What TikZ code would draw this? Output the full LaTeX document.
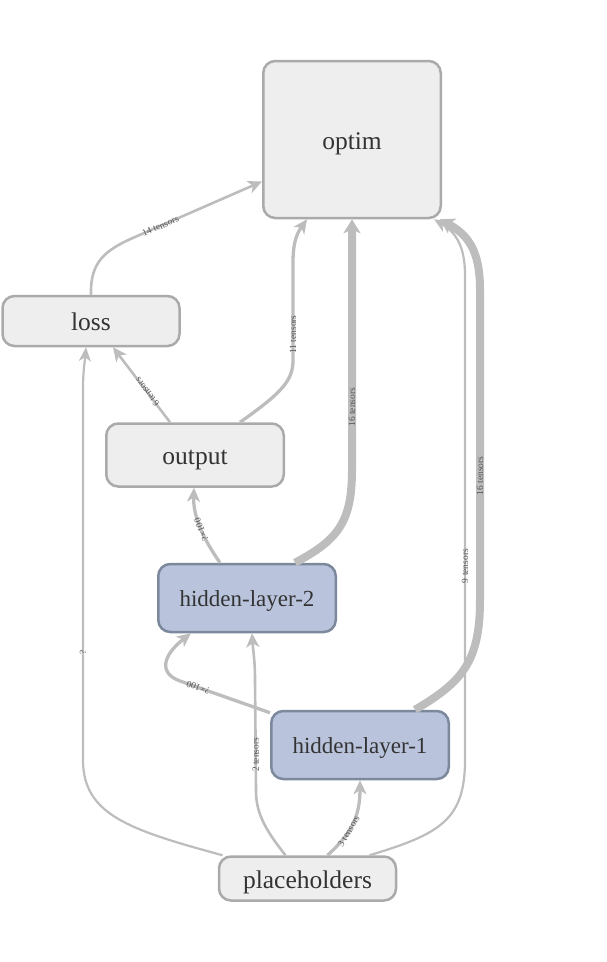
\documentclass[tikz,border=0pt]{standalone}
\usepackage{fontspec}
\setmainfont{Liberation Serif}
\usetikzlibrary{arrows.meta}
\definecolor{nodegray}{HTML}{EEEEEE}
\definecolor{nodegrayline}{HTML}{AAAAAA}
\definecolor{nodeblue}{HTML}{B9C4DC}
\definecolor{nodeblueline}{HTML}{7C889C}
\definecolor{edgecol}{HTML}{BDBDBD}
\definecolor{txtcol}{HTML}{333333}
\definecolor{lblcol}{HTML}{555555}
\tikzset{
  graybox/.style={draw=nodegrayline, fill=nodegray, line width=2.5pt, rounded corners=12pt,
    text=txtcol, font=\fontsize{25.5}{26}\selectfont, inner sep=0pt, text height=19pt, text depth=0pt},
  bluebox/.style={draw=nodeblueline, fill=nodeblue, line width=2.5pt, rounded corners=12pt,
    text=txtcol, font=\fontsize{23}{24}\selectfont, inner sep=0pt, text height=16.6pt, text depth=0pt},
  thinedge/.style={draw=edgecol, line width=2.6pt, -{Stealth[length=14pt,width=13pt,inset=4pt]}},
  medge/.style={draw=edgecol, line width=3.3pt, -{Stealth[length=14pt,width=13pt,inset=4pt]}},
  hairedge/.style={draw=edgecol, line width=2.2pt, -{Stealth[length=14pt,width=12pt,inset=4pt]}},
  thickedge/.style={draw=edgecol, line width=8pt, -{Stealth[length=14pt,width=17pt,inset=4pt]}},
  lbl/.style={sloped, allow upside down, text=lblcol, font=\fontsize{9.5}{10}\selectfont, inner sep=0pt}
}
\begin{document}
\begin{tikzpicture}[x=1pt, y=-1pt]
\useasboundingbox (0,0) rectangle (606,962);
% nodes
\node[graybox, minimum width=177.5pt, minimum height=157pt] (optim) at (352,139.5) {optim};
\node[graybox, minimum width=177pt, minimum height=50pt] (loss) at (91,321) {loss};
\node[graybox, minimum width=177.5pt, minimum height=63pt] (output) at (195,455) {output};
\node[bluebox, minimum width=177.5pt, minimum height=68pt] (hl2) at (247,598) {hidden-layer-2};
\node[bluebox, minimum width=177.5pt, minimum height=68pt] (hl1) at (360,745) {hidden-layer-1};
\node[graybox, minimum width=177pt, minimum height=44pt] (ph) at (307.5,878.5) {placeholders};
% edges
\draw[thinedge] (loss.north) .. controls (90,262) and (105,250) .. (135,237)
  -- node[lbl, pos=0.2]{14 tensors} ([yshift=-42pt]optim.west);
\draw[thinedge] ([xshift=-25pt]output.north) -- node[lbl, pos=0.4]{6 tensors} ([xshift=22pt]loss.south);
\draw[medge] ([xshift=45pt]output.north) .. controls (283,392) and (293,380) .. (293,360)
  -- node[lbl, pos=0.26]{11 tensors} (293,262) .. controls (293,240) and (298,232) .. ([xshift=-45pt]optim.south);
\draw[medge] ([xshift=-27pt]hl2.north) .. controls (202,537) and (193,515) .. node[lbl, pos=0.45]{?\texttimes100} ([xshift=-1pt]output.south);
\draw[thickedge] ([xshift=48pt]hl2.north) .. controls (338,540) and (352,522) .. (352,470)
  -- node[lbl, pos=0.25]{16 tensors} ([xshift=0pt]optim.south);
\draw[medge] ([yshift=-3pt]hl1.north west) -- node[lbl, pos=0.8]{?\texttimes100} (180,681)
  .. controls (158,673) and (163,655) .. ([xshift=-56pt]hl2.south);
\draw[thinedge] ([xshift=-22pt]ph.north) .. controls (262,826) and (256,810) .. (256,790)
  -- node[lbl, pos=0.32]{2 tensors} (255,680) .. controls (255,660) and (253,650) .. ([xshift=5pt]hl2.south);
\draw[medge] ([xshift=20pt]ph.north) .. controls (350,835) and (360,818) .. node[lbl, pos=0.4]{3 tensors} (hl1.south);
\draw[hairedge] ([xshift=-85pt]ph.north) .. controls (130,830) and (83,815) .. (83,760)
  -- node[lbl, pos=0.29]{?} (83,390) .. controls (83,370) and (85,360) .. ([xshift=-5pt]loss.south);
\draw[hairedge] ([xshift=62pt]ph.north) .. controls (440,834) and (465,820) .. (465,760)
  -- node[lbl, pos=0.4]{9 tensors} (465,275) .. controls (465,245) and (455,232) .. ([xshift=82pt]optim.south);
\draw[thickedge] ([xshift=55pt]hl1.north) .. controls (462,682) and (480,662) .. (480,600)
  -- node[lbl, pos=0.4]{16 tensors} (480,290) .. controls (480,250) and (468,235) .. ([xshift=88pt]optim.south);
\end{tikzpicture}
\end{document}
